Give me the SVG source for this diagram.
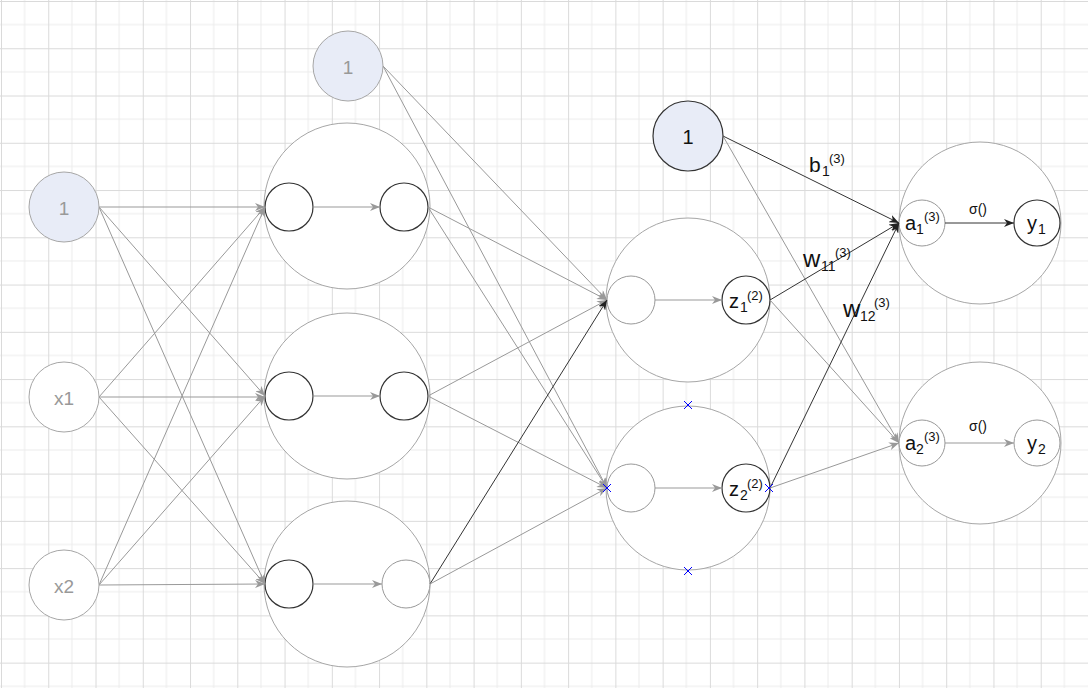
<svg xmlns="http://www.w3.org/2000/svg" width="1088" height="688" viewBox="0 0 1088 688">
<style>
.big{fill:#fff;stroke:#a6a6a6;stroke-width:1}
.inD{fill:#fff;stroke:#333;stroke-width:1.2}
.inG{fill:#fff;stroke:#999;stroke-width:1}
.bias{fill:#e8ecf7;stroke:#a6a6a6;stroke-width:1}
.inp{fill:#fff;stroke:#a6a6a6;stroke-width:1}
.g{fill:none;stroke:#999;stroke-width:1;marker-end:url(#ag)}
.d{fill:none;stroke:#333;stroke-width:1;marker-end:url(#ad)}
.t{font-family:"Liberation Sans","Noto Sans",sans-serif;text-anchor:middle;dominant-baseline:central}
.gt{fill:#999;font-size:19px}
.m{font-family:"Liberation Sans","Noto Sans",sans-serif;fill:#111}
.L{font-size:20px}
.s{font-size:13px}
.e{font-size:14px}
.x{stroke:#0000ff;stroke-width:1}
</style>
<defs>
<pattern id="grid" x="1" y="1" width="47.26" height="47.26" patternUnits="userSpaceOnUse">
<path d="M23.63,0V47.26M0,23.63H47.26" stroke="#ececec" stroke-width="1" fill="none"/>
<path d="M0.5,0V47.26M0,0.5H47.26" stroke="#dadada" stroke-width="1" fill="none"/>
</pattern>
<marker id="ag" viewBox="0 0 10 8" refX="10" refY="4" markerWidth="10" markerHeight="8" markerUnits="userSpaceOnUse" orient="auto"><path d="M0,0L10,4L0,8L3,4z" fill="#999"/></marker>
<marker id="ad" viewBox="0 0 10 8" refX="10" refY="4" markerWidth="10" markerHeight="8" markerUnits="userSpaceOnUse" orient="auto"><path d="M0,0L10,4L0,8L3,4z" fill="#222"/></marker>
</defs>
<rect width="1088" height="688" fill="#fff"/>
<rect width="1088" height="688" fill="url(#grid)"/>

<g id="layer1-neuron1"><circle class="big" cx="347" cy="206" r="83"/><circle class="inD" cx="289" cy="207" r="24"/><circle class="inD" cx="404" cy="207" r="24"/><path class="g" d="M313,207H380"/></g>
<g id="layer1-neuron2"><circle class="big" cx="347" cy="396" r="83"/><circle class="inD" cx="289" cy="396" r="24"/><circle class="inD" cx="404" cy="396" r="24"/><path class="g" d="M313,396H380"/></g>
<g id="layer1-neuron3"><circle class="big" cx="347" cy="584" r="83"/><circle class="inD" cx="289" cy="584" r="24"/><circle class="inG" cx="406" cy="584" r="24"/><path class="g" d="M313,584H382"/></g>

<g id="layer2-neuron1"><circle class="big" cx="688" cy="300" r="82"/><circle class="inG" cx="631" cy="300" r="24"/><circle class="inD" cx="746" cy="300" r="24"/><path class="g" d="M655,300H722"/>
<text class="m L" x="729" y="308">z</text><text class="m e" x="740" y="312">1</text><text class="m s" x="747" y="300">(2)</text></g>
<g id="layer2-neuron2"><circle class="big" cx="688" cy="488" r="82"/><circle class="inG" cx="631" cy="488" r="24"/><circle class="inD" cx="746" cy="488" r="24"/><path class="g" d="M655,488H722"/>
<text class="m L" x="729" y="496">z</text><text class="m e" x="740" y="500">2</text><text class="m s" x="747" y="488">(2)</text></g>

<g id="output-neuron1"><circle class="big" cx="980" cy="223" r="81"/><circle class="inG" cx="922" cy="223" r="23"/><circle class="inD" cx="1037" cy="223" r="23"/><path class="d" d="M945,223H1014"/>
<text class="m" x="978" y="214" font-size="14" text-anchor="middle">σ()</text>
<text class="m L" x="905" y="230">a</text><text class="m e" x="916" y="234">1</text><text class="m s" x="924" y="221">(3)</text>
<text class="m L" x="1027" y="230">y</text><text class="m e" x="1038" y="234">1</text></g>
<g id="output-neuron2"><circle class="big" cx="980" cy="443" r="81"/><circle class="inG" cx="922" cy="443" r="23"/><circle class="inG" cx="1037" cy="443" r="23"/><path class="g" d="M945,443H1014"/>
<text class="m" x="978" y="431" font-size="14" text-anchor="middle">σ()</text>
<text class="m L" x="905" y="450">a</text><text class="m e" x="916" y="454">2</text><text class="m s" x="924" y="441">(3)</text>
<text class="m L" x="1027" y="450">y</text><text class="m e" x="1038" y="454">2</text></g>

<g id="connectors">
<path class="g" d="M99,207H265"/>
<path class="g" d="M99,207L265,396"/>
<path class="g" d="M99,207L265,584"/>
<path class="g" d="M99,397L265,207"/>
<path class="g" d="M99,397H265"/>
<path class="g" d="M99,397L265,584"/>
<path class="g" d="M99,585L265,207"/>
<path class="g" d="M99,585L265,396"/>
<path class="g" d="M99,585L265,584"/>
<path class="g" d="M383,66L607,300"/>
<path class="g" d="M383,66L607,488"/>
<path class="g" d="M428,207L607,300"/>
<path class="g" d="M428,207L607,488"/>
<path class="g" d="M428,396L607,300"/>
<path class="g" d="M428,396L607,488"/>
<path class="d" d="M430,584L607,300"/>
<path class="g" d="M430,584L607,488"/>
<path class="d" d="M723,136L899,223"/>
<path class="g" d="M723,136L899,443"/>
<path class="d" d="M770,300L899,223"/>
<path class="g" d="M770,300L899,443"/>
<path class="d" d="M770,488L899,223"/>
<path class="g" d="M770,488L899,443"/>
<text class="m" x="809" y="172" font-size="21">b</text><text class="m e" x="822" y="176">1</text><text class="m s" x="829" y="163">(3)</text>
<text class="m" x="803" y="267" font-size="24">w</text><text class="m e" x="821" y="271">11</text><text class="m s" x="835" y="257">(3)</text>
<text class="m" x="843" y="317" font-size="24">w</text><text class="m e" x="860" y="321">12</text><text class="m s" x="874" y="307">(3)</text>
</g>

<g id="input-bias"><circle class="bias" cx="64" cy="207" r="35"/><text class="t gt" x="64" y="208">1</text></g>
<g id="input-x1"><circle class="inp" cx="64" cy="397" r="35"/><text class="t gt" x="64" y="398">x1</text></g>
<g id="input-x2"><circle class="inp" cx="64" cy="585" r="35"/><text class="t gt" x="64" y="586">x2</text></g>
<g id="layer1-bias"><circle class="bias" cx="348" cy="66" r="35"/><text class="t gt" x="348" y="67">1</text></g>
<g id="layer2-bias"><circle cx="688" cy="136" r="35" fill="#e8ecf7" stroke="#333" stroke-width="1.2"/><text class="t" x="688" y="137" font-size="20" fill="#111">1</text></g>

<g id="markers-x">
<path class="x" d="M684,401l8,8M692,401l-8,8"/>
<path class="x" d="M684,567l8,8M692,567l-8,8"/>
<path class="x" d="M603,484l8,8M611,484l-8,8"/>
<path class="x" d="M765,484l8,8M773,484l-8,8"/>
</g>
</svg>
